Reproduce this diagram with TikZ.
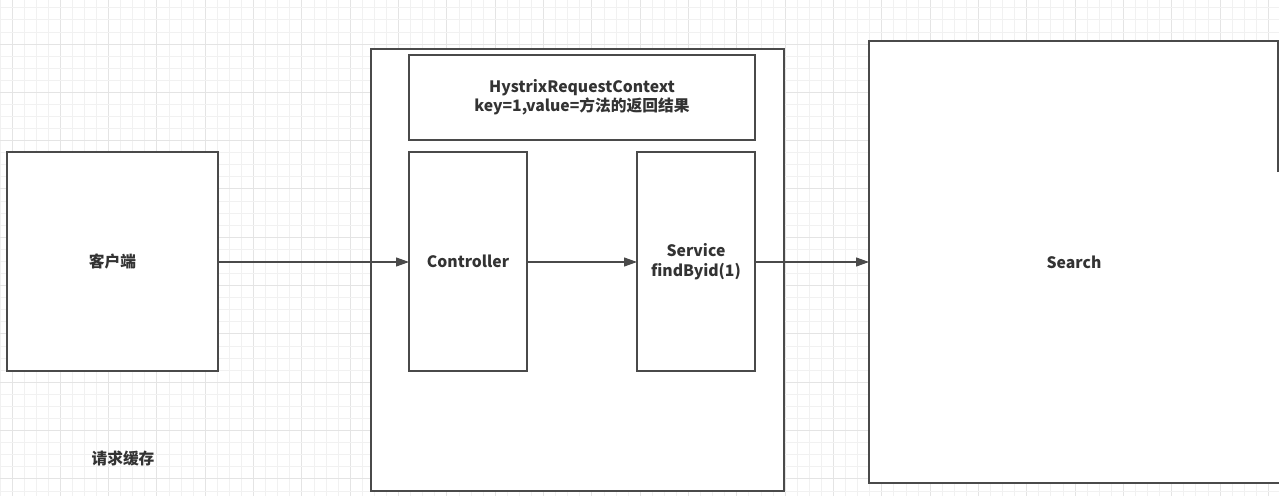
\documentclass[tikz,border=0pt]{standalone}
\usepackage{fontspec}
\setmainfont{Noto Sans CJK SC}
\usetikzlibrary{arrows.meta}
\definecolor{edge}{HTML}{4A4A4A}
\definecolor{txt}{HTML}{333333}
\definecolor{gminor}{HTML}{F1F1F1}
\definecolor{gmajor}{HTML}{E4E4E4}
\def\px{0.75pt}
\tikzset{
  box/.style={draw=edge, line width=1.5*\px, fill=white, inner sep=0pt, outer sep=0pt,
    text=txt, font=\fontsize{11.8pt}{14.6pt}\selectfont\bfseries, align=center},
  conn/.style={draw=edge, line width=1.2*\px, -{Triangle[length=13*\px, width=9*\px]}},
  gridminor/.style={draw=gminor, line width=0.8*\px},
  gridmajor/.style={draw=gmajor, line width=1*\px},
}
\begin{document}
\begin{tikzpicture}[x=0.75pt, y=-0.75pt]
\useasboundingbox (0,0) rectangle (1279,496);
\fill[white] (0,0) rectangle (1279,496);
% background grid
\foreach \i in {0,...,106} {
  \pgfmathsetmacro{\gx}{-0.08+12.08*\i}
  \pgfmathtruncatemacro{\m}{mod(\i,4)}
  \ifnum\m=1 \draw[gridmajor] (\gx,0) -- (\gx,496); \else \draw[gridminor] (\gx,0) -- (\gx,496); \fi
}
\foreach \i in {0,...,41} {
  \pgfmathsetmacro{\gy}{7.76+12.08*\i}
  \pgfmathtruncatemacro{\m}{mod(\i,4)}
  \ifnum\m=3 \draw[gridmajor] (0,\gy) -- (1279,\gy); \else \draw[gridminor] (0,\gy) -- (1279,\gy); \fi
}
% boxes
\node[box, minimum width=211*\px, minimum height=219*\px] (client) at (112.5,261.5) {客户端};
\node[box, minimum width=413*\px, minimum height=442*\px] (outer) at (577.5,270) {};
\node[box, minimum width=346*\px, minimum height=85*\px] (ctx) at (582,97.5) {HystrixRequestContext\\key=1,value=方法的返回结果};
\node[box, minimum width=118*\px, minimum height=219*\px] (ctrl) at (468,261.5) {Controller};
\node[box, minimum width=118*\px, minimum height=219*\px] (svc) at (696,261.5) {Service\\findByid(1)};
\node[box, draw=none, minimum width=410*\px, minimum height=442*\px] (search) at (1074,262) {Search};
\coordinate (sr) at ([yshift=-131*\px]search.north east);
\draw[draw=edge, line width=1.5*\px] ([xshift=-1*\px]sr) -- ([xshift=-1*\px]search.north east) -- (search.north west) -- (search.south west) -- ([xshift=2*\px]search.south east);
% label
\node[text=txt, font=\fontsize{11.8pt}{14pt}\selectfont\bfseries, inner sep=0pt] (title) at (123,458) {请求缓存};
% connectors
\draw[conn] (client.east |- 0,262) -- (ctrl.west |- 0,262);
\draw[conn] (ctrl.east |- 0,262) -- (svc.west |- 0,262);
\draw[conn] (svc.east |- 0,262) -- (search.west |- 0,262);
\end{tikzpicture}
\end{document}
